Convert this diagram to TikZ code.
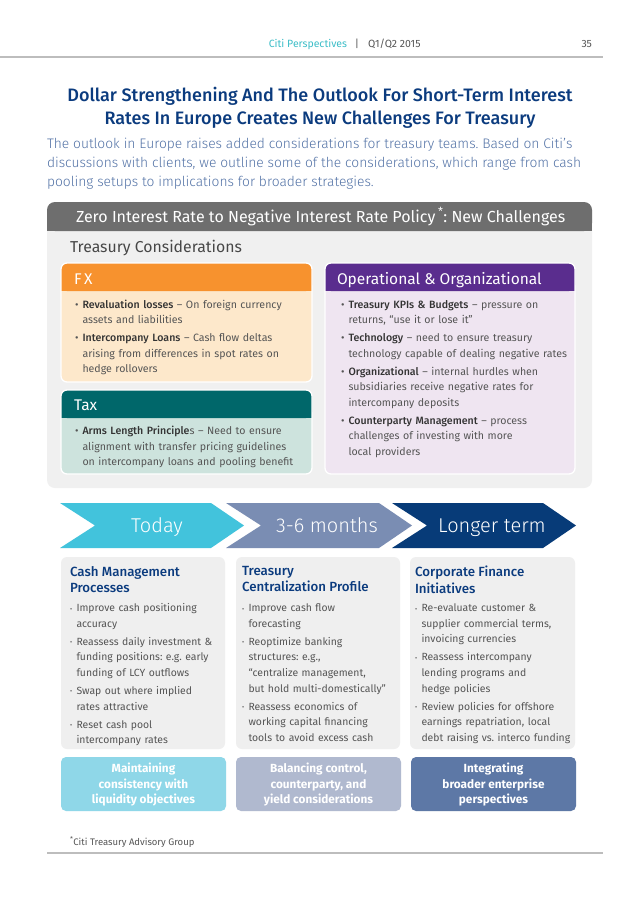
\documentclass[tikz,border=0pt]{standalone}
\usepackage{fontspec}
\setmainfont{Fira Sans}
\newfontfamily\flight{Fira Sans Light}
\newfontfamily\fmed{Fira Sans Medium}
\definecolor{titleblue}{HTML}{0B3B7E}
\definecolor{parablue}{HTML}{5272A6}
\definecolor{cititeal}{HTML}{3DBEC8}
\definecolor{hdrgray}{HTML}{6E6E6E}
\definecolor{boxgray}{HTML}{F0F0F0}
\definecolor{cardgray}{HTML}{EFEFEF}
\definecolor{fxorange}{HTML}{F7922E}
\definecolor{fxbody}{HTML}{FDE8CB}
\definecolor{taxteal}{HTML}{00676A}
\definecolor{taxbody}{HTML}{CDE3DD}
\definecolor{oppurple}{HTML}{5A2D8E}
\definecolor{opbody}{HTML}{EFE5F1}
\definecolor{txtgray}{HTML}{555555}
\definecolor{darktxt}{HTML}{333333}
\definecolor{chevA}{HTML}{42C3DC}
\definecolor{chevB}{HTML}{7A8DB3}
\definecolor{chevC}{HTML}{073B78}
\definecolor{botA}{HTML}{8FD7E8}
\definecolor{botB}{HTML}{B0B9CF}
\definecolor{botC}{HTML}{5D78A6}
\definecolor{linegray}{HTML}{BDBDBD}
\newcommand\bitem[1]{\par\hangindent=7.5pt\hangafter=1\noindent\makebox[7.5pt][l]{\textbullet}#1\par\vspace{2.5pt}}
\newcommand\citem[1]{\par\hangindent=6.5pt\hangafter=1\noindent\makebox[6.5pt][l]{\raisebox{0.6pt}{\fontsize{6.5}{6.5}\selectfont\textbullet}}#1\par\vspace{2.4pt}}
\newcommand\term[1]{\textcolor{darktxt}{\fmed #1}}
\newcommand\mypanel[6]{%
  \fill[#6, rounded corners=6pt] (#1,#2) rectangle (#3,#4);
  \fill[#5, rounded corners=6pt] (#1,#2) rectangle (#3,#2+28);
  \fill[#5] (#1,#2+16) rectangle (#3,#2+28);
  \draw[white, line width=1.3pt, rounded corners=6pt] (#1,#2) rectangle (#3,#4);
}
\frenchspacing
\begin{document}
\begin{tikzpicture}[x=1pt,y=-1pt,
  every node/.style={inner sep=0pt, outer sep=0pt},
  hdr/.style={font=\fontsize{10.5}{12}\selectfont, text=txtgray},
  titlefont/.style={font=\fontsize{18}{22}\selectfont\fmed, text=titleblue},
  parafont/.style={font=\fontsize{13.8}{19}\selectfont\flight, text=parablue},
  paneltitle/.style={font=\fontsize{15.5}{18}\selectfont, text=white},
  bultext/.style={font=\fontsize{10.6}{15.5}\selectfont, text=txtgray, align=left, anchor=north west},
  cardtitle/.style={font=\fontsize{13.3}{16.5}\selectfont\fmed, text=titleblue, align=left, anchor=north west},
  cardtext/.style={font=\fontsize{10.4}{15.6}\selectfont, text=txtgray, align=left, anchor=north west},
  chevtext/.style={font=\fontsize{20}{24}\selectfont\flight, text=white, anchor=base},
  bottext/.style={font=\fontsize{11.8}{15.5}\selectfont\bfseries, text=white, align=center}
]
\useasboundingbox (0,0) rectangle (640,900);
\fill[white] (0,0) rectangle (640,900);

% page header
\node[hdr, anchor=base east, text=cititeal] (citi) at (347,47) {Citi Perspectives};
\node[hdr, anchor=base] (bar) at (357,47) {|};
\node[hdr, anchor=base west] (date) at (368,47) {Q1/Q2 2015};
\node[hdr, anchor=base east] (page) at (592,47) {35};
\draw[linegray, line width=2pt] (0,57) -- (603,57);

% title and intro
\node[titlefont, anchor=base] (t1) at (320,101) {Dollar Strengthening And The Outlook For Short-Term Interest};
\node[titlefont, anchor=base] (t2) at (320,124) {Rates In Europe Creates New Challenges For Treasury};
\node[parafont, anchor=base west] (p1) at (47,148) {The outlook in Europe raises added considerations for treasury teams. Based on Citi’s};
\node[parafont, anchor=base west] (p2) at (47,167) {discussions with clients, we outline some of the considerations, which range from cash};
\node[parafont, anchor=base west] (p3) at (47,186) {pooling setups to implications for broader strategies.};

% big gray box
\fill[boxgray, rounded corners=8pt] (47,202) rectangle (592,488);
\fill[hdrgray, rounded corners=8pt] (47,202) rectangle (592,231);
\fill[hdrgray] (47,218) rectangle (592,231);
\node[font=\fontsize{16}{18}\selectfont, text=white, anchor=base west] (zirp) at (76,222) {Zero Interest Rate to Negative Interest Rate Policy\,\textsuperscript{*}: New Challenges};
\node[font=\fontsize{15.8}{18}\selectfont, text=darktxt!90, anchor=base west] (tc) at (70,252) {Treasury Considerations};

% panels
\mypanel{61}{263}{312}{382}{fxorange}{fxbody}
\mypanel{61}{390}{312}{474}{taxteal}{taxbody}
\mypanel{325}{263}{575}{474}{oppurple}{opbody}

\node[paneltitle, anchor=base west] (fx) at (74,284) {F\,X};
\node[paneltitle, anchor=base west] (tax) at (74,410) {Tax};
\node[paneltitle, anchor=base west] (op) at (337,284) {Operational \& Organizational};

\node[bultext, text width=235] (fxlist) at (75,292.5) {%
\bitem{\term{Revaluation losses} -- On foreign currency\newline assets and liabilities}
\bitem{\term{Intercompany Loans} -- Cash flow deltas\newline arising from differences in spot rates on\newline hedge rollovers}};

\node[bultext, text width=235] (taxlist) at (75,419) {%
\bitem{\term{Arms Length Principle}s -- Need to ensure\newline alignment with transfer pricing guidelines\newline on intercompany loans and pooling benefit}};

\node[bultext, text width=232] (oplist) at (341,292.5) {%
\bitem{\term{Treasury KPIs \& Budgets} -- pressure on\newline returns, “use it or lose it”}
\bitem{\term{Technology} -- need to ensure treasury\newline technology capable of dealing negative rates}
\bitem{\term{Organizational} -- internal hurdles when\newline subsidiaries receive negative rates for\newline intercompany deposits}
\bitem{\term{Counterparty Management} -- process\newline challenges of investing with more\newline local providers}};

% chevrons
\fill[chevA] (60,503) -- (211,503) -- (244,525.5) -- (211,548) -- (60,548) -- (95,525.5) -- cycle;
\fill[chevB] (226,503) -- (379,503) -- (412,525.5) -- (379,548) -- (226,548) -- (261,525.5) -- cycle;
\fill[chevC] (392,503) -- (543,503) -- (576,525.5) -- (543,548) -- (392,548) -- (427,525.5) -- cycle;
\node[chevtext] (today) at (157,532.5) {Today};
\node[chevtext] (mid) at (327,532.5) {3-6 months};
\node[chevtext] (longer) at (492,532.5) {Longer term};

% cards
\fill[cardgray, rounded corners=6pt] (61,557) rectangle (225,749);
\fill[cardgray, rounded corners=6pt] (236,557) rectangle (400,749);
\fill[cardgray, rounded corners=6pt] (410,557) rectangle (575,749);

\node[cardtitle] (c1t) at (70,566) {Cash Management\\Processes};
\node[cardtitle] (c2t) at (242,566) {Treasury\\Centralization Profile};
\node[cardtitle] (c3t) at (415,566) {Corporate Finance\\Initiatives};

\node[cardtext, text width=155] (c1l) at (70,596) {%
\citem{Improve cash positioning\newline accuracy}
\citem{Reassess daily investment \&\newline funding positions: e.g. early\newline funding of LCY outflows}
\citem{Swap out where implied\newline rates attractive}
\citem{Reset cash pool\newline intercompany rates}};

\node[cardtext, text width=155] (c2l) at (242,596) {%
\citem{Improve cash flow\newline forecasting}
\citem{Reoptimize banking\newline structures: e.g.,\newline “centralize management,\newline but hold multi-domestically”}
\citem{Reassess economics of\newline working capital financing\newline tools to avoid excess cash}};

\node[cardtext, text width=160] (c3l) at (415,596) {%
\citem{Re-evaluate customer \&\newline supplier commercial terms,\newline invoicing currencies}
\citem{Reassess intercompany\newline lending programs and\newline hedge policies}
\citem{Review policies for offshore\newline earnings repatriation, local\newline debt raising vs. interco funding}};

% bottom boxes
\fill[botA, rounded corners=5pt] (61,757) rectangle (226,811);
\fill[botB, rounded corners=5pt] (236,757) rectangle (401,811);
\fill[botC, rounded corners=5pt] (411,757) rectangle (576,811);
\node[bottext] (b1) at (143.5,785) {Maintaining\\consistency with\\liquidity objectives};
\node[bottext] (b2) at (318.5,785) {Balancing control,\\counterparty, and\\yield considerations};
\node[bottext] (b3) at (493.5,785) {Integrating\\broader enterprise\\perspectives};

% footnote
\node[font=\fontsize{9.5}{11}\selectfont, text=txtgray, anchor=base west] (fn) at (70,845) {\textsuperscript{*}Citi Treasury Advisory Group};
\draw[linegray, line width=1.3pt] (47,853) -- (603,853);
\end{tikzpicture}
\end{document}
